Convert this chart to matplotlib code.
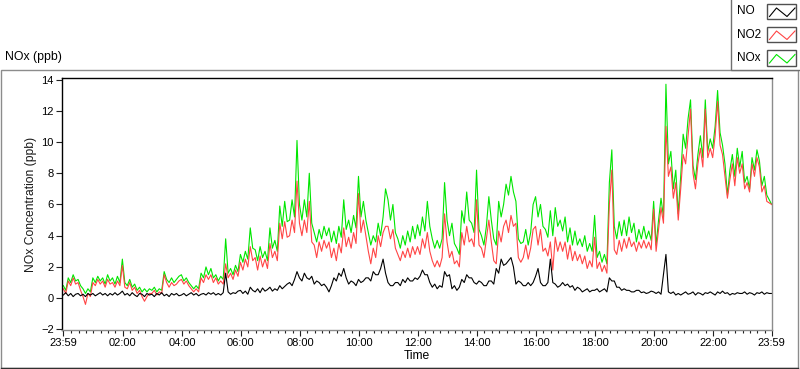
import numpy as np
import matplotlib.pyplot as plt
from matplotlib.patches import Rectangle

# 0. Data: values every 5 minutes, starting 23:59
# one row per hour (12 samples), last value = 23:59
no = [
    0.2, 0.35, 0.15, 0.3, 0.1, 0.25, 0.3, 0.15, 0.25, 0.1, 0.3, 0.2,
    0.3, 0.15, 0.25, 0.35, 0.2, 0.3, 0.15, 0.3, 0.2, 0.35, 0.2, 0.3,
    0.45, 0.2, 0.3, 0.15, 0.35, 0.2, 0.1, 0.3, 0.25, 0.1, 0.3, 0.2,
    0.25, 0.1, 0.3, 0.2, 0.35, 0.15, 0.25, 0.1, 0.3, 0.2, 0.3, 0.15,
    0.2, 0.3, 0.15, 0.25, 0.35, 0.2, 0.3, 0.15, 0.25, 0.3, 0.2, 0.35,
    0.25, 0.35, 0.2, 0.3, 0.2, 0.35, 1.6, 0.4, 0.25, 0.35, 0.3, 0.45,
    0.5, 0.3, 0.45, 0.25, 0.7, 0.5, 0.4, 0.6, 0.35, 0.65, 0.45, 0.55,
    0.7, 0.45, 0.6, 0.5, 0.8, 0.6, 0.75, 0.9, 1.0, 0.8, 1.2, 1.7,
    1.3, 1.1, 1.6, 1.3, 1.2, 1.4, 0.9, 1.1, 1.0, 0.8, 0.9, 0.7,
    0.4, 0.8, 1.3, 1.1, 1.6, 1.4, 1.9, 1.3, 0.9, 1.1, 1.0, 0.8,
    1.2, 1.0, 1.1, 1.3, 1.3, 1.1, 1.7, 1.5, 1.5, 1.9, 2.5, 1.6,
    1.0, 0.8, 0.8, 1.0, 1.0, 0.8, 1.2, 1.0, 1.3, 1.1, 1.1, 1.3,
    1.2, 1.4, 1.8, 1.5, 1.5, 1.0, 0.7, 0.9, 0.6, 0.8, 0.7, 1.7,
    1.4, 1.5, 0.6, 0.8, 0.5, 0.7, 1.2, 1.0, 1.5, 1.3, 1.3, 1.0,
    0.9, 1.1, 1.0, 0.8, 0.8, 1.1, 1.1, 0.9, 1.9, 1.6, 2.5, 2.1,
    2.2, 2.4, 2.6, 2.0, 0.9, 1.1, 1.0, 0.8, 0.8, 1.0, 0.8, 1.0,
    1.4, 1.9, 1.0, 0.8, 0.8, 1.0, 2.5, 1.0, 0.9, 0.7, 0.8, 1.0,
    0.8, 0.9, 0.7, 0.8, 0.5, 0.7, 0.6, 0.4, 0.5, 0.6, 0.4, 0.5,
    0.5, 0.6, 0.4, 0.5, 0.6, 0.4, 1.3, 1.1, 1.1, 0.7, 0.7, 0.5,
    0.6, 0.5, 0.5, 0.4, 0.4, 0.5, 0.5, 0.35, 0.4, 0.3, 0.35, 0.45,
    0.4, 0.3, 0.4, 0.25, 1.5, 2.8, 0.4, 0.3, 0.4, 0.2, 0.3, 0.2,
    0.3, 0.4, 0.25, 0.3, 0.4, 0.2, 0.35, 0.3, 0.2, 0.35, 0.3, 0.4,
    0.3, 0.2, 0.4, 0.3, 0.45, 0.3, 0.35, 0.2, 0.3, 0.25, 0.35, 0.3,
    0.3, 0.4, 0.25, 0.35, 0.3, 0.2, 0.35, 0.3, 0.4, 0.25, 0.35, 0.3,
    0.3,
]
no2 = [
    0.6, 0.3, 1.1, 0.8, 1.3, 0.9, 1.0, 0.5, 0.1, -0.4, 0.3, 0.1,
    1.0, 0.8, 1.2, 0.9, 1.1, 0.7, 1.2, 0.9, 1.0, 0.7, 1.1, 0.8,
    2.1, 0.7, 0.6, 1.0, 0.5, 0.7, 0.3, 0.5, 0.1, -0.2, 0.1, 0.3,
    0.3, 0.5, 0.2, 0.4, 0.3, 1.5, 1.0, 0.7, 1.0, 0.8, 0.9, 1.1,
    1.2, 0.9, 1.1, 0.8, 0.6, 0.4, 0.6, 0.4, 1.3, 1.0, 1.5, 1.2,
    1.5, 1.0, 1.3, 0.9, 1.1, 0.9, 2.2, 1.3, 1.6, 1.2, 1.8, 1.4,
    2.3, 1.8, 2.5, 2.0, 3.3, 2.4, 2.6, 1.8, 2.7, 2.0, 2.5, 1.9,
    3.5, 2.6, 3.0, 2.4, 4.8, 3.8, 4.9, 3.9, 4.0, 5.0, 4.2, 7.5,
    4.8, 4.0, 5.0, 4.2, 6.2, 3.6, 3.4, 2.6, 3.6, 3.0, 3.7, 3.2,
    3.6, 2.6, 3.2, 2.4, 3.5, 2.9, 4.5, 3.3, 3.9, 3.2, 4.2, 3.5,
    6.7, 4.2, 5.0, 4.0, 3.0, 2.2, 3.2, 2.6, 4.0, 3.3, 4.2, 4.6,
    4.6, 3.8, 4.4, 3.2, 2.8, 2.4, 3.0, 2.6, 3.2, 2.6, 3.3, 2.8,
    3.3, 2.8, 3.8, 3.2, 4.2, 3.0, 2.4, 2.0, 2.4, 2.0, 2.6, 5.4,
    3.6, 2.6, 3.0, 2.2, 2.4, 2.0, 4.2, 3.4, 4.6, 3.6, 3.8, 3.3,
    6.3, 3.4, 3.2, 2.6, 3.8, 5.0, 3.6, 2.4, 2.2, 4.3, 3.6, 4.6,
    5.0, 4.2, 5.3, 4.6, 4.8, 2.6, 2.3, 2.6, 3.4, 2.5, 3.2, 4.4,
    4.6, 3.4, 4.4, 3.0, 3.2, 2.7, 3.6, 1.8, 3.9, 3.0, 3.6, 3.0,
    3.6, 2.5, 3.4, 2.4, 3.0, 2.4, 2.8, 2.2, 2.7, 1.9, 2.4, 2.0,
    3.9, 1.9, 2.3, 1.7, 2.1, 1.6, 6.0, 8.2, 3.1, 2.8, 3.7, 3.0,
    3.8, 3.2, 3.9, 3.3, 3.6, 3.0, 3.6, 3.2, 3.7, 3.2, 3.6, 3.1,
    5.7, 3.0, 4.4, 5.8, 4.8, 11.0, 7.8, 8.4, 6.4, 7.4, 5.0, 7.0,
    9.2, 8.6, 10.4, 12.1, 8.0, 7.0, 8.6, 9.6, 8.4, 12.1, 9.0, 9.6,
    9.0, 10.4, 12.6, 9.8, 9.2, 7.8, 6.4, 7.6, 8.6, 7.2, 9.0, 8.0,
    8.6, 7.0, 7.4, 6.8, 8.6, 7.8, 9.0, 8.4, 6.8, 7.2, 6.2, 6.1,
    6.0,
]
nox = [
    0.8, 0.5, 1.3, 1.0, 1.5, 1.1, 1.2, 0.8, 0.6, 0.3, 0.6, 0.4,
    1.3, 1.0, 1.4, 1.1, 1.3, 0.9, 1.5, 1.1, 1.3, 0.9, 1.4, 1.0,
    2.5, 1.0, 0.8, 1.2, 0.7, 0.9, 0.5, 0.7, 0.4, 0.6, 0.4, 0.6,
    0.5, 0.7, 0.4, 0.6, 0.5, 1.7, 1.2, 1.0, 1.3, 1.0, 1.2, 1.4,
    1.5, 1.1, 1.3, 1.0, 0.8, 0.6, 0.8, 0.6, 1.6, 1.3, 2.0, 1.5,
    1.9, 1.3, 1.5, 1.1, 1.4, 1.2, 3.8, 1.6, 1.9, 1.5, 2.1, 1.7,
    2.8, 2.3, 3.0, 2.5, 4.5, 3.2, 3.1, 2.4, 3.3, 2.6, 3.0, 2.4,
    4.5, 3.2, 3.7, 3.0, 5.9, 4.6, 6.2, 4.9, 5.0, 6.3, 5.2, 10.1,
    6.0, 5.0, 6.3, 5.2, 8.0, 4.8, 4.2, 3.6, 4.4, 3.8, 4.6, 4.0,
    4.5, 3.6, 4.3, 3.5, 4.6, 3.9, 6.3, 4.4, 5.0, 4.2, 5.3, 4.5,
    7.8, 5.2, 6.2, 5.0, 4.2, 3.4, 4.0, 3.6, 4.8, 4.0, 5.2, 7.0,
    6.3, 5.0, 6.0, 4.2, 3.8, 3.2, 4.0, 3.4, 4.3, 3.6, 4.6, 3.8,
    4.7, 4.0, 5.2, 4.3, 6.2, 4.6, 3.8, 3.2, 3.7, 3.2, 3.8, 7.4,
    5.0, 4.0, 4.8, 3.5, 3.2, 2.8, 5.6, 4.8, 6.8, 5.0, 4.8, 4.2,
    8.2, 4.4, 4.0, 3.4, 4.6, 6.5, 5.0, 3.8, 3.4, 6.2, 5.2, 6.0,
    7.3, 6.6, 7.8, 6.8, 6.2, 3.8, 3.5, 3.6, 4.4, 3.4, 4.2, 6.0,
    6.5, 5.2, 6.0, 4.6, 4.4, 3.9, 5.6, 4.0, 5.8, 4.6, 5.0, 4.3,
    5.2, 3.6, 4.5, 3.4, 4.3, 3.4, 3.8, 3.3, 4.0, 3.0, 3.5, 3.0,
    5.3, 2.6, 3.0, 2.3, 2.8, 2.2, 7.4, 9.5, 4.6, 3.8, 4.9, 4.0,
    5.0, 4.0, 5.2, 4.2, 4.8, 3.6, 4.4, 3.8, 4.6, 3.8, 4.3, 3.7,
    6.2, 3.4, 5.0, 6.4, 5.2, 13.7, 8.6, 9.4, 7.0, 8.2, 5.4, 7.8,
    10.5, 9.6, 11.5, 12.7, 8.5, 7.6, 9.2, 10.4, 9.0, 12.7, 9.4, 10.2,
    9.6, 11.0, 13.3, 10.6, 9.8, 8.6, 6.6, 8.2, 9.2, 7.8, 9.6, 8.4,
    9.4, 7.4, 7.8, 7.0, 9.0, 8.2, 9.5, 8.8, 7.2, 7.8, 6.6, 6.3,
    6.0,
]
tick_labels = ["23:59", "02:00", "04:00", "06:00", "08:00", "10:00", "12:00",
               "14:00", "16:00", "18:00", "20:00", "22:00", "23:59"]
y_ticks = [-2, 0, 2, 4, 6, 8, 10, 12, 14]

# hours after 23:59
t = np.arange(len(no)) / 12.0
tick_pos = [0] + [(120 * k + 1) / 60.0 for k in range(1, 12)] + [24]
minor_pos = [(15 * k + 1) / 60.0 for k in range(1, 96) if k % 8 != 0]

plt.rcParams['font.family'] = ['Liberation Sans', 'DejaVu Sans']
plt.rcParams['font.size'] = 8

fig = plt.figure(figsize=(8, 3.69), dpi=100)
W, H = 800, 369

# 1. Chart
ax = fig.add_axes([62 / W, 39 / H, 710 / W, 252 / H])
ax.plot(t, nox, color='#00e600', lw=0.8)
ax.plot(t, no2, color='#ff4545', lw=0.8)
ax.plot(t, no, color='black', lw=0.8)
ax.set_xlim(-0.045, 24.01)
ax.set_ylim(-2.04, 14.1)
ax.set_yticks(y_ticks)
ax.set_xticks(tick_pos)
ax.set_xticklabels(tick_labels)
ax.set_xticks(minor_pos, minor=True)
ax.tick_params(axis='both', direction='out', length=4, width=0.8, color='#202020', pad=2)
ax.tick_params(axis='x', which='minor', direction='out', length=2.5, width=0.8, color='#202020')
for s in ['top', 'left']:
    ax.spines[s].set_color('black')
for s in ['bottom', 'right']:
    ax.spines[s].set_color('#8c8c8c')
for s in ax.spines.values():
    s.set_linewidth(1)
ax.set_ylabel("NOx Concentration (ppb)", fontsize=8.7, color='#1a1a1a')
ax.yaxis.set_label_coords(-0.035, 0.5)
ax.set_xlabel("Time", fontsize=8.7, labelpad=1.5)

# 2. Frame, title and legend in pixel coordinates
ov = fig.add_axes([0, 0, 1, 1], zorder=5)
ov.set_xlim(0, W)
ov.set_ylim(H, 0)
ov.axis('off')
ov.patch.set_alpha(0)
ov.add_patch(Rectangle((1, 69.5), 797, 298, fill=False, ec='#8c8c8c', lw=1))
ov.plot([1, 798], [367.5, 367.5], color='#303030', lw=1)
ov.text(5, 57, "NOx (ppb)", va='center', ha='left', fontsize=8.8)
ov.add_patch(Rectangle((730.5, -2), 72, 71.5, fc='white', ec='#707070', lw=1))
names = ["NO", "NO2", "NOx"]
colors = ['black', '#ff4545', '#00e600']
tops = [3.5, 26.5, 50]
for name, c, top in zip(names, colors, tops):
    ov.text(737, top + 8, name, va='center', ha='left', fontsize=8.5)
    ov.add_patch(Rectangle((767, top), 29, 15.5, fc='white', ec='#505050', lw=1))
    ov.plot([769.5, 776.5, 787, 795], [top + 13, top + 4.5, top + 13, top + 4.5], color=c, lw=0.8)

plt.savefig("out.png", dpi=100)
